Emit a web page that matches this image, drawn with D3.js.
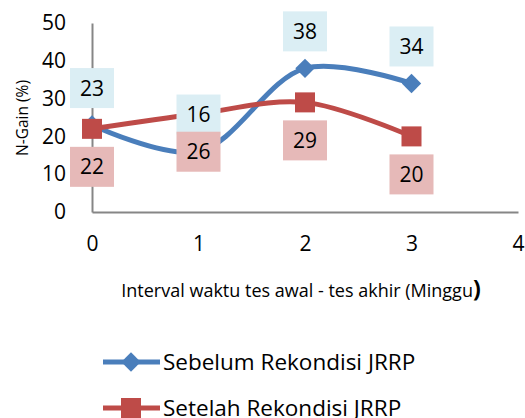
<!DOCTYPE html>
<html>
<head>
<meta charset="utf-8">
<script src="https://cdn.jsdelivr.net/npm/d3@7"></script>
<style>
  body { margin: 0; background: #fff; }
  svg { display: block; font-family: "Open Sans", sans-serif; }
</style>
</head>
<body>
<div id="chart"></div>
<script>
// data
var weeks = [0, 1, 2, 3];
var sebelum = [23, 16, 38, 34];
var setelah = [22, 26, 29, 20];
var xTicks = [0, 1, 2, 3, 4];
var yTicks = [0, 10, 20, 30, 40, 50];
var seriesNames = ["Sebelum Rekondisi JRRP", "Setelah Rekondisi JRRP"];

var width = 525, height = 418;
var blue = "#4a7ebb", red = "#be4b48";

var svg = d3.select("#chart").append("svg")
    .attr("width", width)
    .attr("height", height);

var x = d3.scaleLinear().domain([0, 4]).range([92, 518]);
var y = d3.scaleLinear().domain([0, 50]).range([212, 23]);

// axes
var xAxis = svg.append("g")
    .attr("transform", "translate(0," + y(0) + ")")
    .call(d3.axisBottom(x).tickValues(xTicks).tickSize(0).tickPadding(24).tickFormat(d3.format("d")));
var yAxis = svg.append("g")
    .attr("transform", "translate(" + x(0) + ",0)")
    .call(d3.axisLeft(y).tickValues(yTicks).tickSize(0).tickPadding(26));

[xAxis, yAxis].forEach(function (g) {
    g.select(".domain").attr("stroke", "#868686").attr("stroke-width", 2);
    g.selectAll("text").attr("font-size", 21).attr("fill", "#000")
        .attr("font-family", "'Open Sans', sans-serif");
});

// axis titles
svg.append("text")
    .attr("transform", "translate(28,118) rotate(-90)")
    .attr("text-anchor", "middle")
    .attr("font-size", 15.5)
    .text("N-Gain (%)");

var xt = svg.append("text")
    .attr("x", 301)
    .attr("y", 297)
    .attr("text-anchor", "middle")
    .attr("font-size", 18);
xt.append("tspan").text("Interval waktu tes awal - tes akhir (Minggu");
xt.append("tspan").attr("font-size", 23).attr("font-weight", "bold").text(")");

// lines
var line = d3.line()
    .x(function (d, i) { return x(weeks[i]); })
    .y(function (d) { return y(d); })
    .curve(d3.curveCatmullRom.alpha(0.5));

svg.append("path").datum(sebelum)
    .attr("d", line).attr("fill", "none")
    .attr("stroke", blue).attr("stroke-width", 5);

svg.selectAll(".diamond").data(sebelum).enter().append("path")
    .attr("class", "diamond")
    .attr("d", d3.symbol().type(d3.symbolDiamond2).size(240))
    .attr("transform", function (d, i) { return "translate(" + x(weeks[i]) + "," + y(d) + ")"; })
    .attr("fill", blue);

svg.append("path").datum(setelah)
    .attr("d", line).attr("fill", "none")
    .attr("stroke", red).attr("stroke-width", 5);

svg.selectAll(".sq").data(setelah).enter().append("rect")
    .attr("class", "sq")
    .attr("x", function (d, i) { return x(weeks[i]) - 10; })
    .attr("y", function (d) { return y(d) - 10; })
    .attr("width", 20).attr("height", 20)
    .attr("fill", red);

// data labels
function labels(values, offset, bg) {
    var g = svg.selectAll(null).data(values).enter().append("g")
        .attr("transform", function (d, i) {
            return "translate(" + x(weeks[i]) + "," + (y(d) + offset) + ")";
        });
    g.append("rect")
        .attr("x", -22).attr("y", -20)
        .attr("width", 44).attr("height", 40)
        .attr("fill", bg);
    g.append("text")
        .attr("text-anchor", "middle")
        .attr("dy", "0.36em")
        .attr("font-size", 21)
        .text(function (d) { return d; });
}
labels(sebelum, -37, "#dbeef4");
labels(setelah, 38, "#e6b9b8");

// legend
var legend = svg.selectAll(".legend").data(seriesNames).enter().append("g")
    .attr("transform", function (d, i) { return "translate(103," + (362 + i * 46) + ")"; });
legend.append("line")
    .attr("x1", 0).attr("x2", 57)
    .attr("stroke", function (d, i) { return i ? red : blue; })
    .attr("stroke-width", 5);
legend.filter(function (d, i) { return i === 0; }).append("path")
    .attr("d", d3.symbol().type(d3.symbolDiamond2).size(240))
    .attr("transform", "translate(28,0)")
    .attr("fill", blue);
legend.filter(function (d, i) { return i === 1; }).append("rect")
    .attr("x", 18).attr("y", -10).attr("width", 20).attr("height", 20)
    .attr("fill", red);
legend.append("text")
    .attr("x", 60).attr("dy", "0.36em")
    .attr("font-size", 22.5)
    .text(function (d) { return d; });
</script>
</body>
</html>
